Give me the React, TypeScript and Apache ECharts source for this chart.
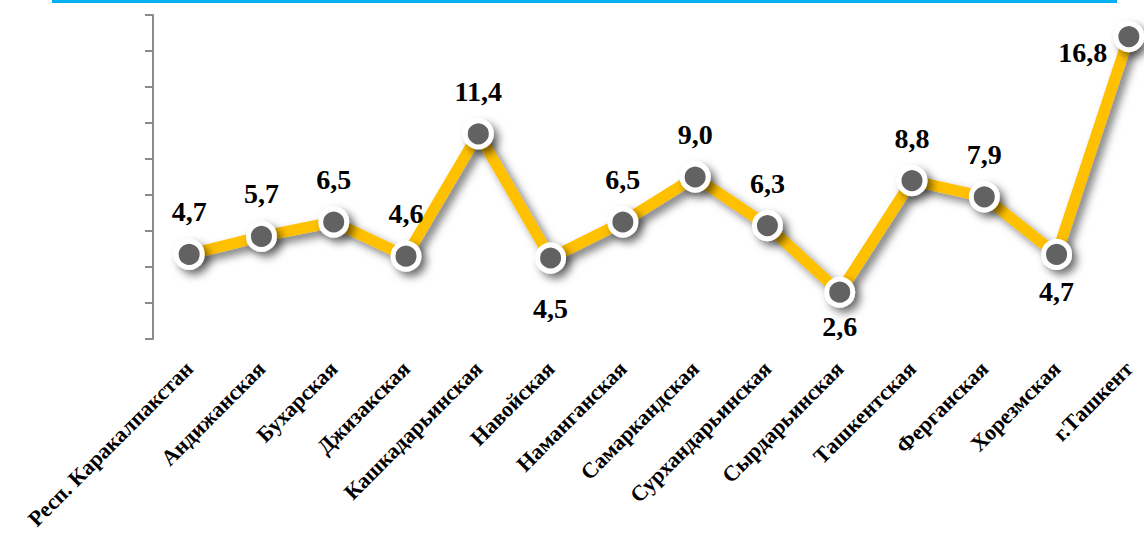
import React, { useEffect, useRef } from "react";
import * as echarts from "echarts";

const categories = [
  "Респ. Каракалпакстан",
  "Андижанская",
  "Бухарская",
  "Джизакская",
  "Кашкадарьинская",
  "Навойская",
  "Наманганская",
  "Самаркандская",
  "Сурхандарьинская",
  "Сырдарьинская",
  "Ташкентская",
  "Ферганская",
  "Хорезмская",
  "г.Ташкент",
];

const values = [4.7, 5.7, 6.5, 4.6, 11.4, 4.5, 6.5, 9.0, 6.3, 2.6, 8.8, 7.9, 4.7, 16.8];

// which side of the point each value label sits on, and its gap
const labelSides = [
  "top", "top", "top", "top", "top", "bottom", "top",
  "top", "top", "bottom", "top", "top", "bottom", "left",
];
const labelGaps = [13, 13, 13, 13, 13, 21, 13, 13, 13, 5, 13, 13, 8, 6];

const SERIF = "Liberation Serif";

function labelFor(side: string, gap: number) {
  const base = {
    fontFamily: SERIF,
    fontWeight: "bold",
    fontSize: 28,
    color: "#000",
  };
  if (side === "left") return { ...base, position: "left", distance: gap, offset: [0, 16] };
  return { ...base, position: side, distance: gap };
}

export default function App() {
  const ref = useRef<HTMLDivElement>(null);
  useEffect(() => {
    if (!ref.current) return;
    const chart = echarts.init(ref.current, undefined, { renderer: "svg" });
    const data = values.map((v, i) => ({ value: v, label: labelFor(labelSides[i], labelGaps[i]) }));
    chart.setOption({
      animation: false,
      backgroundColor: "#ffffff",
      graphic: [
        {
          type: "rect",
          shape: { x: 52, y: 0, width: 1065, height: 3 },
          style: { fill: "#00B0F0" },
          z: 10,
        },
      ],
      grid: { left: 153, top: 15, width: 1012, height: 324, containLabel: false },
      xAxis: {
        type: "category",
        data: categories,
        boundaryGap: true,
        axisLine: { show: false },
        axisTick: { show: false },
        axisLabel: {
          interval: 0,
          rotate: 45,
          margin: 26,
          color: "#000",
          fontFamily: SERIF,
          fontWeight: "bold",
          fontSize: 22,
        },
      },
      yAxis: {
        type: "value",
        min: 0,
        max: 18,
        interval: 2,
        axisLine: { show: true, lineStyle: { color: "#8c8c8c", width: 2 } },
        axisTick: { show: true, inside: false, length: 8, lineStyle: { color: "#8c8c8c", width: 2 } },
        axisLabel: { show: false },
        splitLine: { show: false },
      },
      series: [
        {
          type: "line",
          data,
          symbol: "circle",
          symbolSize: 26,
          clip: false,
          lineStyle: {
            color: "#FFC000",
            width: 11,
            shadowColor: "rgba(0,0,0,0.5)",
            shadowBlur: 8,
            shadowOffsetX: 5,
            shadowOffsetY: 5,
          },
          itemStyle: {
            color: "#626262",
            borderColor: "#ffffff",
            borderWidth: 5,
            shadowColor: "rgba(0,0,0,0.55)",
            shadowBlur: 8,
            shadowOffsetX: 5,
            shadowOffsetY: 5,
          },
          label: {
            show: true,
            color: "#000",
            fontFamily: SERIF,
            fontWeight: "bold",
            fontSize: 28,
            formatter: (p: any) => Number(p.value).toFixed(1).replace(".", ","),
          },
          emphasis: { disabled: true },
        },
      ],
    });
    return () => chart.dispose();
  }, []);
  return (
    <div style={{ position: "absolute", left: 0, top: 0, width: 1144, height: 537, overflow: "hidden" }}>
      <div ref={ref} style={{ width: 1170, height: 537 }} />
    </div>
  );
}
